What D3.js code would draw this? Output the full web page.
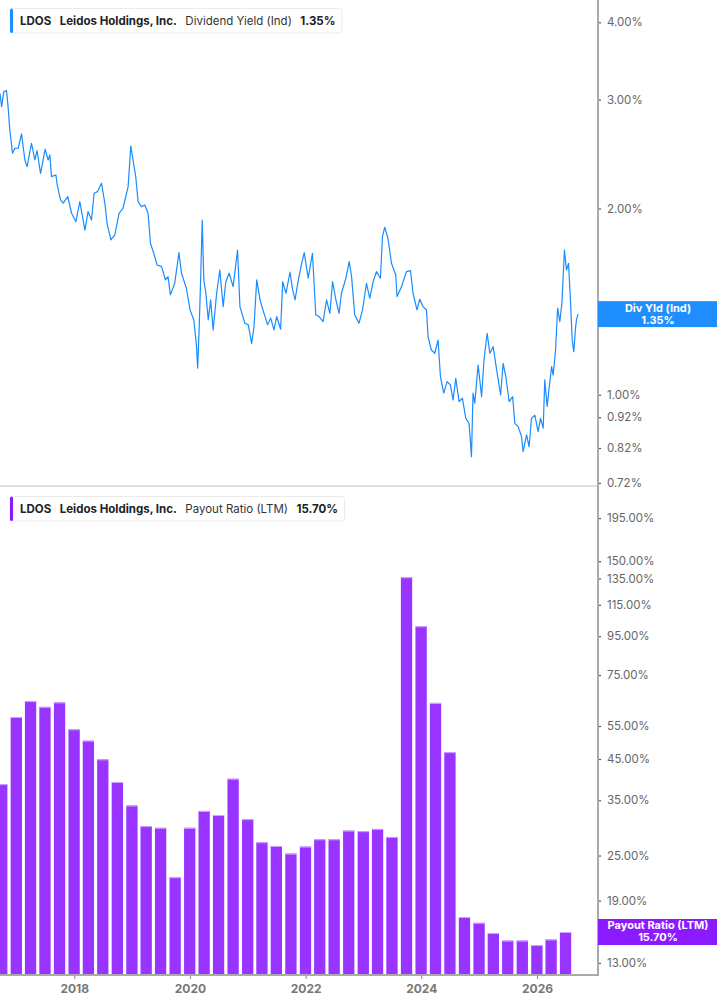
<!DOCTYPE html>
<html>
<head>
<meta charset="utf-8">
<script src="https://cdn.jsdelivr.net/npm/d3@7"></script>
<style>
  body { margin: 0; background: #fff; }
  svg { display: block; font-family: Inter, "Noto Sans", sans-serif; }
</style>
</head>
<body>
<svg></svg>
<script>
// Dividend Yield (Ind), in %
var yieldDates = [
  "2016-09-19","2016-09-29","2016-10-13","2016-10-30","2016-11-09","2016-11-20","2016-12-07","2016-12-22",
  "2017-01-12","2017-02-02","2017-02-23","2017-03-09","2017-04-06","2017-04-27","2017-05-11","2017-06-02",
  "2017-07-01","2017-07-20","2017-07-31","2017-08-10","2017-09-07","2017-09-15","2017-10-06","2017-10-23",
  "2017-11-21","2017-12-15","2018-01-11","2018-02-05","2018-03-09","2018-03-29","2018-04-20","2018-05-06",
  "2018-05-28","2018-06-22","2018-07-13","2018-07-27","2018-08-20","2018-09-14","2018-10-11","2018-11-05",
  "2018-12-07","2018-12-24","2019-01-07","2019-01-24","2019-02-08","2019-03-01","2019-03-22","2019-04-12",
  "2019-04-27","2019-05-18","2019-06-08","2019-07-06","2019-07-31","2019-08-16","2019-08-31","2019-09-27",
  "2019-10-24","2019-11-09","2019-12-10","2020-01-02","2020-01-26","2020-02-12","2020-02-19","2020-02-29",
  "2020-03-10","2020-03-19","2020-03-29","2020-04-11","2020-04-26","2020-05-11","2020-05-27","2020-06-18",
  "2020-07-08","2020-07-29","2020-08-15","2020-09-05","2020-09-30","2020-10-28","2020-11-12","2020-12-13",
  "2021-01-04","2021-01-25","2021-02-09","2021-02-26","2021-03-19","2021-04-13","2021-05-06","2021-05-25",
  "2021-06-15","2021-07-02","2021-07-27","2021-08-09","2021-08-30","2021-09-24","2021-10-11","2021-10-26",
  "2021-11-16","2021-12-07","2021-12-23","2022-01-17","2022-02-13","2022-03-06","2022-03-27","2022-04-21",
  "2022-05-13","2022-06-03","2022-06-20","2022-07-11","2022-07-31","2022-08-15","2022-09-12","2022-10-03",
  "2022-10-18","2022-11-07","2022-12-04","2022-12-26","2023-01-20","2023-02-10","2023-03-03","2023-03-24",
  "2023-04-18","2023-05-01","2023-05-15","2023-06-05","2023-06-27","2023-07-24","2023-08-01","2023-08-29",
  "2023-09-30","2023-10-25","2023-11-10","2023-12-05","2023-12-23","2024-01-12","2024-02-03","2024-02-13",
  "2024-03-05","2024-03-26","2024-04-16","2024-05-01","2024-05-22","2024-06-12","2024-07-03","2024-07-20",
  "2024-08-06","2024-08-27","2024-09-17","2024-10-08","2024-10-29","2024-11-13","2024-11-23","2024-12-04",
  "2024-12-25","2025-01-16","2025-01-31","2025-02-20","2025-03-09","2025-03-30","2025-04-21","2025-05-16",
  "2025-06-01","2025-06-18","2025-07-09","2025-07-31","2025-08-14","2025-09-04","2025-09-25","2025-10-05",
  "2025-10-27","2025-11-12","2025-11-27","2025-12-18","2026-01-08","2026-01-23","2026-02-09","2026-02-19",
  "2026-03-06","2026-03-18","2026-04-03","2026-04-13","2026-04-28","2026-05-11","2026-05-25","2026-06-07",
  "2026-06-23","2026-07-06","2026-07-19","2026-07-31","2026-08-11","2026-08-21","2026-09-01","2026-09-07",
  "2026-09-17"
];
var yieldValues = [
  3.071,2.922,3.090,3.101,2.922,2.679,2.457,2.503,
  2.503,2.640,2.396,2.337,2.550,2.396,2.480,2.280,
  2.494,2.396,2.441,2.252,2.266,2.183,2.065,2.040,
  2.090,1.965,1.904,2.052,1.846,1.977,1.916,2.117,
  2.130,2.197,2.040,1.893,1.779,1.813,1.965,2.002,
  2.170,2.524,2.396,2.252,2.052,2.014,2.027,1.965,
  1.757,1.693,1.621,1.611,1.533,1.552,1.450,1.514,
  1.697,1.572,1.486,1.371,1.321,1.196,1.104,1.288,
  1.572,1.916,1.533,1.459,1.321,1.423,1.273,1.459,
  1.591,1.388,1.523,1.572,1.495,1.714,1.388,1.305,
  1.297,1.211,1.288,1.533,1.423,1.354,1.297,1.330,
  1.273,1.338,1.276,1.523,1.459,1.579,1.477,1.423,
  1.533,1.631,1.697,1.543,1.693,1.346,1.338,1.313,
  1.423,1.354,1.523,1.423,1.354,1.459,1.543,1.641,
  1.552,1.346,1.305,1.371,1.514,1.432,1.523,1.581,
  1.543,1.801,1.865,1.790,1.631,1.562,1.441,1.495,
  1.581,1.587,1.459,1.371,1.427,1.388,1.371,1.241,
  1.181,1.167,1.226,1.070,1.006,1.050,1.037,0.981,
  1.063,0.975,0.987,0.916,0.899,0.794,1.006,0.969,
  1.117,0.993,1.138,1.257,1.167,1.196,1.097,0.999,
  1.124,1.070,0.975,0.993,0.899,0.888,0.856,0.809,
  0.861,0.824,0.916,0.927,0.872,0.916,0.883,1.057,
  0.957,1.024,1.110,1.076,1.181,1.380,1.313,1.406,
  1.714,1.591,1.631,1.423,1.226,1.174,1.281,1.321,
  1.350
];

// Payout Ratio (LTM), in %, by fiscal quarter end
var payoutQuarters = [
  "2016-09-30","2016-12-31","2017-03-31","2017-06-30","2017-09-30","2017-12-31","2018-03-31","2018-06-30",
  "2018-09-30","2018-12-31","2019-03-31","2019-06-30","2019-09-30","2019-12-31","2020-03-31","2020-06-30",
  "2020-09-30","2020-12-31","2021-03-31","2021-06-30","2021-09-30","2021-12-31","2022-03-31","2022-06-30",
  "2022-09-30","2022-12-31","2023-03-31","2023-06-30","2023-09-30","2023-12-31","2024-03-31","2024-06-30",
  "2024-09-30","2024-12-31","2025-03-31","2025-06-30","2025-09-30","2025-12-31","2026-03-31","2026-06-30"
];
var payoutValues = [
  38.6,58.1,64.0,61.8,63.5,53.9,50.3,44.9,
  39.1,33.9,29.9,29.6,21.9,29.6,32.8,32.0,
  39.9,31.2,27.1,26.5,25.3,26.4,27.6,27.6,
  29.1,29.0,29.4,28.0,136.0,100.9,63.3,46.9,
  17.2,16.6,15.6,14.9,14.9,14.5,15.0,15.7
];

var yieldTicks = [4, 3, 2, 1, 0.92, 0.82, 0.72];
var payoutTicks = [195, 150, 135, 115, 95, 75, 55, 45, 35, 25, 19, 13];
var yearTicks = ["2018-01-01", "2020-01-01", "2022-01-01", "2024-01-01", "2026-01-01"];

var lastYield = 1.35, lastPayout = 15.70;

var width = 717, height = 1005, axisX = 598;
var blue = "#1a8cff", purple = "#9933ff";

var svg = d3.select("svg")
    .attr("width", width)
    .attr("height", height);

var parse = d3.timeParse("%Y-%m-%d");

var x = d3.scaleTime()
    .domain([parse("2016-09-19"), parse("2027-01-21")])
    .range([0, axisX]);

// both panels are log scaled
var yTop = d3.scaleLog().domain([0.712, 4.346]).range([486, 0]);
var yBot = d3.scaleLog().domain([12.084, 237]).range([975, 486]);

svg.append("clipPath").attr("id", "plot")
  .append("rect").attr("x", 0).attr("y", 0).attr("width", axisX).attr("height", 975);

// panel divider
svg.append("line")
    .attr("x1", 0).attr("x2", axisX)
    .attr("y1", 486).attr("y2", 486)
    .attr("stroke", "#e0e0e0").attr("stroke-width", 2);

// dividend yield line
var yieldData = yieldDates.map(function(d, i) { return {date: parse(d), value: yieldValues[i]}; });

var line = d3.line()
    .x(function(d) { return x(d.date); })
    .y(function(d) { return yTop(d.value); });

svg.append("path")
    .datum(yieldData)
    .attr("clip-path", "url(#plot)")
    .attr("d", line)
    .attr("fill", "none")
    .attr("stroke", blue)
    .attr("stroke-width", 1.2)
    .attr("stroke-linejoin", "round");

// payout ratio bars
var payoutData = payoutQuarters.map(function(d, i) { return {date: parse(d), value: payoutValues[i]}; });
var barW = 11.3;

var bars = svg.append("g").attr("clip-path", "url(#plot)");

bars.selectAll("rect")
    .data(payoutData)
    .enter()
    .append("rect")
    .attr("x", function(d) { return x(d.date) - barW / 2; })
    .attr("y", function(d) { return yBot(d.value); })
    .attr("width", barW)
    .attr("height", function(d) { return 975 - yBot(d.value); })
    .attr("fill", purple);

// light edge on top of each bar
bars.selectAll("line")
    .data(payoutData)
    .enter()
    .append("line")
    .attr("x1", function(d) { return x(d.date) - barW / 2; })
    .attr("x2", function(d) { return x(d.date) + barW / 2; })
    .attr("y1", function(d) { return yBot(d.value) + 0.5; })
    .attr("y2", function(d) { return yBot(d.value) + 0.5; })
    .attr("stroke", "#cfa6ff")
    .attr("stroke-width", 1);

// x axis
var xAxis = svg.append("g")
    .attr("transform", "translate(0,975)")
    .call(d3.axisBottom(x)
        .tickValues(yearTicks.map(parse))
        .tickFormat(d3.timeFormat("%Y"))
        .tickSize(4));

xAxis.select(".domain").remove();
xAxis.selectAll(".tick line").attr("stroke", "#888");
xAxis.selectAll(".tick text")
    .attr("y", 9)
    .attr("fill", "#777")
    .style("font-family", "Inter, sans-serif")
    .style("font-size", "12px")
    .style("font-weight", "700");

svg.append("line")
    .attr("x1", 0).attr("x2", axisX + 1)
    .attr("y1", 975).attr("y2", 975)
    .attr("stroke", "#aaa").attr("stroke-width", 2);

// right axes
function styleAxis(g) {
  g.select(".domain").remove();
  g.selectAll(".tick line").attr("stroke", "#555").attr("stroke-width", 1.2);
  g.selectAll(".tick text")
      .attr("x", 9)
      .attr("fill", "#666")
      .style("font-family", "Inter, sans-serif")
      .style("font-size", "11.5px");
}

svg.append("g")
    .attr("transform", "translate(" + axisX + ",0)")
    .call(d3.axisRight(yTop)
        .tickValues(yieldTicks)
        .tickFormat(function(d) { return d.toFixed(2) + "%"; })
        .tickSize(3))
    .call(styleAxis);

svg.append("g")
    .attr("transform", "translate(" + axisX + ",0)")
    .call(d3.axisRight(yBot)
        .tickValues(payoutTicks)
        .tickFormat(function(d) { return d.toFixed(2) + "%"; })
        .tickSize(3))
    .call(styleAxis);

svg.append("line")
    .attr("x1", axisX).attr("x2", axisX)
    .attr("y1", 0).attr("y2", 976)
    .attr("stroke", "#aaa").attr("stroke-width", 2);

// last value tags on the axis
function valueTag(y, color, title, value) {
  var g = svg.append("g").attr("transform", "translate(" + axisX + "," + y + ")");
  g.append("rect")
      .attr("x", 0).attr("y", -13)
      .attr("width", width - axisX).attr("height", 26)
      .attr("fill", color);
  g.append("text")
      .attr("x", 60).attr("y", -2.5)
      .attr("text-anchor", "middle")
      .attr("fill", "#fff")
      .style("font-size", "11px").style("font-weight", "700")
      .text(title);
  g.append("text")
      .attr("x", 60).attr("y", 9.5)
      .attr("text-anchor", "middle")
      .attr("fill", "#fff")
      .style("font-size", "11px").style("font-weight", "700")
      .text(value);
}

valueTag(yTop(lastYield), "#1f8fff", "Div Yld (Ind)", lastYield.toFixed(2) + "%");
valueTag(yBot(lastPayout), "#8c1aff", "Payout Ratio (LTM)", lastPayout.toFixed(2) + "%");

// legends
function legend(top, color, metric, value) {
  var g = svg.append("g").attr("transform", "translate(10," + top + ")");
  var box = g.append("rect")
      .attr("x", 0).attr("y", 0)
      .attr("height", 24.5).attr("rx", 3)
      .attr("fill", "#fff")
      .attr("stroke", "#ebebeb");
  g.append("rect")
      .attr("x", 0).attr("y", 0)
      .attr("width", 3).attr("height", 24.5).attr("rx", 1.5)
      .attr("fill", color);

  var parts = [
    {t: "LDOS", w: 700, c: "#222"},
    {t: "Leidos Holdings, Inc.", w: 700, c: "#222"},
    {t: metric, w: 400, c: "#333"},
    {t: value, w: 700, c: "#222"}
  ];
  var cx = 10;
  parts.forEach(function(p) {
    var t = g.append("text")
        .attr("x", cx).attr("y", 16.5)
        .attr("fill", p.c)
        .style("font-size", "11.5px")
        .style("font-weight", p.w)
        .text(p.t);
    cx += t.node().getComputedTextLength() + 8.5;
  });
  box.attr("width", cx - 2);
}

legend(8.5, "#1f8fff", "Dividend Yield (Ind)", lastYield.toFixed(2) + "%");
legend(496.5, "#8c1aff", "Payout Ratio (LTM)", lastPayout.toFixed(2) + "%");
</script>
</body>
</html>
